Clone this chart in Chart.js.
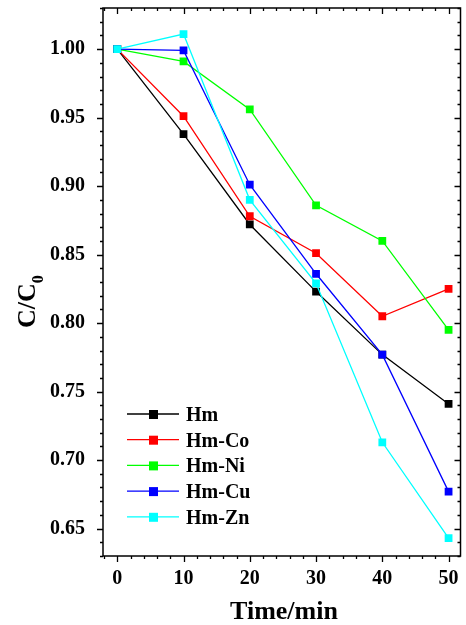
<!DOCTYPE html>
<html>
<head>
<meta charset="utf-8">
<script src="https://cdn.jsdelivr.net/npm/chart.js@4.4.1/dist/chart.umd.min.js"></script>
<style>
  html, body { margin: 0; padding: 0; background: #fff; }
</style>
</head>
<body>
<canvas id="chart" width="466" height="625"></canvas>
<script>
// datos
const times = [0, 10, 20, 30, 40, 50];
const seriesNames = ['Hm', 'Hm-Co', 'Hm-Ni', 'Hm-Cu', 'Hm-Zn'];
const seriesColors = ['#000000', '#ff0000', '#00ff00', '#0000ff', '#00ffff'];
const hm   = [1.000, 0.938, 0.872, 0.823, 0.777, 0.741];
const hmCo = [1.000, 0.951, 0.878, 0.851, 0.805, 0.825];
const hmNi = [1.000, 0.991, 0.956, 0.886, 0.860, 0.795];
const hmCu = [1.000, 0.999, 0.901, 0.836, 0.777, 0.677];
const hmZn = [1.000, 1.011, 0.890, 0.829, 0.713, 0.643];
const xTicks = [0, 10, 20, 30, 40, 50];
const yTicks = [0.65, 0.70, 0.75, 0.80, 0.85, 0.90, 0.95, 1.00];

const FONT = '"Liberation Serif", "Times New Roman", serif';
const allValues = [hm, hmCo, hmNi, hmCu, hmZn];

function makeDataset(i) {
  return {
    label: seriesNames[i],
    data: times.map((t, k) => ({ x: t, y: allValues[i][k] })),
    borderColor: seriesColors[i],
    backgroundColor: seriesColors[i],
    borderWidth: 1.3,
    pointStyle: 'rect',
    pointRadius: 5.5,
    pointBorderWidth: 0,
    tension: 0,
    order: 5 - i,
  };
}

// marco, ticks hacia dentro/fuera, titulos y leyenda
const framePlugin = {
  id: 'frame',
  afterDraw(chart) {
    const { ctx, chartArea: a, scales } = chart;
    const xs = scales.x, ys = scales.y;
    ctx.save();
    ctx.strokeStyle = '#000';
    ctx.lineWidth = 1.5;
    ctx.strokeRect(a.left, a.top, a.right - a.left, a.bottom - a.top);

    ctx.lineWidth = 1.3;
    ctx.beginPath();
    // eje x: minor cada 2
    for (let v = -2; v <= 50; v += 2) {
      const px = Math.round(xs.getPixelForValue(v)) + 0.5;
      const major = v % 10 === 0 && v >= 0 && v <= 50;
      const len = major ? 6 : 3;
      ctx.moveTo(px, a.bottom); ctx.lineTo(px, a.bottom + len);
      ctx.moveTo(px, a.top); ctx.lineTo(px, a.top + len);
    }
    // eje y: minor cada 0.01
    for (let k = 63; k <= 103; k++) {
      const py = Math.round(ys.getPixelForValue(k / 100)) + 0.5;
      const major = k % 5 === 0 && k >= 65 && k <= 100;
      const len = major ? 6 : 3;
      ctx.moveTo(a.left, py); ctx.lineTo(a.left - len, py);
      ctx.moveTo(a.right, py); ctx.lineTo(a.right - len, py);
    }
    ctx.stroke();

    // titulo eje x
    ctx.fillStyle = '#000';
    ctx.font = 'bold 26px ' + FONT;
    ctx.textAlign = 'center';
    ctx.textBaseline = 'alphabetic';
    ctx.fillText('Time/min', 284, 619);

    // titulo eje y con subindice
    ctx.save();
    ctx.translate(35, 328);
    ctx.rotate(-Math.PI / 2);
    ctx.textAlign = 'left';
    ctx.font = 'bold 26px ' + FONT;
    ctx.fillText('C/C', 0, 0);
    const w = ctx.measureText('C/C').width;
    ctx.font = 'bold 16px ' + FONT;
    ctx.fillText('0', w, 8);
    ctx.restore();

    // leyenda
    ctx.font = 'bold 20px ' + FONT;
    ctx.textAlign = 'left';
    chart.data.datasets.forEach((ds, i) => {
      const y = 414 + i * 25.7;
      ctx.strokeStyle = ds.borderColor;
      ctx.lineWidth = 1.3;
      ctx.beginPath();
      ctx.moveTo(127, y); ctx.lineTo(179, y);
      ctx.stroke();
      ctx.fillStyle = ds.backgroundColor;
      ctx.fillRect(149, y - 4, 9, 9);
      ctx.fillStyle = '#000';
      ctx.fillText(ds.label, 186, y + 7);
    });
    ctx.restore();
  }
};

new Chart(document.getElementById('chart').getContext('2d'), {
  type: 'line',
  data: { datasets: seriesNames.map((_, i) => makeDataset(i)) },
  options: {
    responsive: false,
    animation: false,
    layout: { padding: { left: 0, right: 3, top: 8, bottom: 0 } },
    plugins: { legend: { display: false }, tooltip: { enabled: false } },
    scales: {
      x: {
        type: 'linear',
        min: -2.15,
        max: 51.8,
        grid: { display: false },
        border: { display: false },
        afterBuildTicks: (s) => { s.ticks = xTicks.map(v => ({ value: v })); },
        afterFit: (s) => { s.height = 69; s.paddingLeft = 0; s.paddingRight = 0; },
        ticks: {
          font: { family: FONT, size: 20, weight: 'bold' },
          color: '#000',
          padding: 3,
          maxRotation: 0,
        },
      },
      y: {
        type: 'linear',
        min: 0.63,
        max: 1.03,
        grid: { display: false },
        border: { display: false },
        afterBuildTicks: (s) => { s.ticks = yTicks.map(v => ({ value: v })); },
        afterFit: (s) => { s.width = 103; s.paddingTop = 0; s.paddingBottom = 0; },
        ticks: {
          font: { family: FONT, size: 20, weight: 'bold' },
          color: '#000',
          padding: 10,
          callback: (v) => v.toFixed(2),
        },
      },
    },
  },
  plugins: [framePlugin],
});
</script>
</body>
</html>
